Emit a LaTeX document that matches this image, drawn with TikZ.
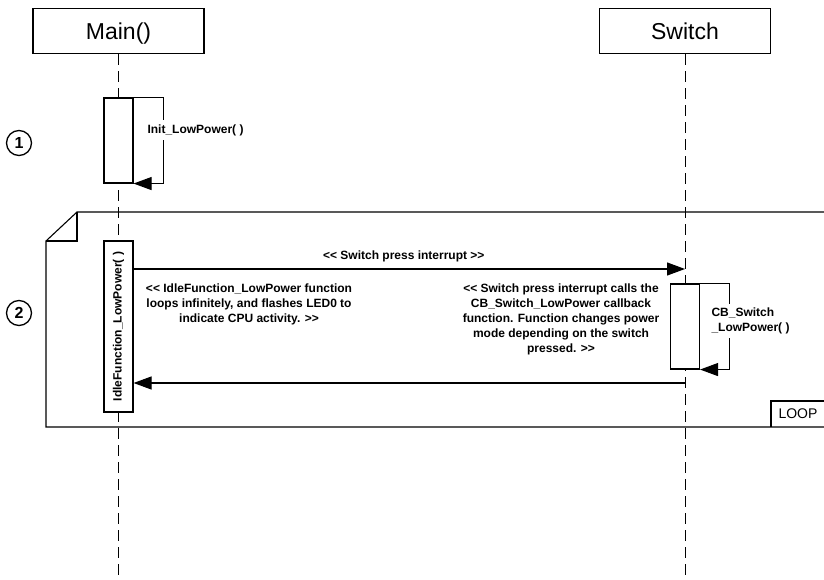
\documentclass[tikz,border=0pt]{standalone}
\usepackage{fontspec}
\setmainfont{Liberation Sans}
\usetikzlibrary{arrows.meta}
\begin{document}
\begin{tikzpicture}[x=1pt,y=-1pt,
  line width=1.1pt,
  header/.style={draw,rectangle,minimum width=171pt,minimum height=45pt,inner sep=0pt,text height=20pt,text depth=2pt,font=\fontsize{23}{26}\selectfont},
  lifeline/.style={dash pattern=on 11pt off 6pt,line width=1pt},
  actbox/.style={draw,fill=white,rectangle,inner sep=0pt,minimum width=29pt},
  msg/.style={-{Triangle[length=18pt,width=13pt]}},
  note/.style={align=center,font=\fontsize{12}{15}\selectfont\bfseries,inner sep=0pt},
  looplabel/.style={fill=white,align=left,font=\fontsize{12}{15}\selectfont\bfseries,inner xsep=1pt,inner ysep=4pt},
  numcirc/.style={draw,circle,minimum size=25pt,inner sep=0pt,line width=1.3pt,font=\fontsize{16}{16}\selectfont\bfseries},
  fragtext/.style={anchor=west,inner sep=0pt,font=\fontsize{14}{14}\selectfont}
]
\useasboundingbox (0,0) rectangle (824,580);
\clip (0,0) rectangle (824,580);

% participants
\node[header] (main) at (118.5,31) {Main()};
\node[header] (switch) at (685,31) {Switch};
\coordinate (mainend) at (main.south |- 0,580);
\coordinate (switchend) at (switch.south |- 0,580);

% lifelines
\draw[lifeline] (main.south) -- (mainend);
\draw[lifeline] (switch.south) -- (switchend);

% step markers
\node[numcirc] (n1) at (19,143) {1};
\node[numcirc] (n2) at (19,313) {2};

% loop combined fragment with folded corner
\draw (46,241) -- (77,212) -- (840,212) -- (840,427) -- (46,427) -- cycle;
\draw (77,212) -- (77,241) -- (46,241);
\draw (771,427) -- (771,401) -- (840,401);
\node[fragtext] (looplbl) at (778,414) {LOOP};

% step 1: initialisation self call
\node[actbox,minimum height=85pt] (act1) at (118.5,140.5) {};
\draw[msg] (act1.north east) -- ++(30,0) |- (act1.south east);
\node[looplabel,anchor=west] (init) at (146,130) {Init\_LowPower( )};

% step 2: idle loop activation
\node[actbox,minimum height=171pt] (act2) at (118.5,326.5)
  {\rotatebox{90}{\fontsize{12}{15}\selectfont\bfseries IdleFunction\_LowPower( )}};

% switch interrupt message
\coordinate (irq) at (switch.south |- 0,269);
\draw[msg] (act2.east |- irq) -- node[note,above=6pt,pos=0.49] (irqlbl) {<{}< Switch press interrupt >{}>} (irq);

\node[note] (idlenote) at (249,304) {<{}< IdleFunction\_LowPower function\\loops infinitely, and flashes LED0 to\\indicate CPU activity. >{}>};
\node[note] (cbnote) at (561,319) {<{}< Switch press interrupt calls the\\CB\_Switch\_LowPower callback\\function. Function changes power\\mode depending on the switch\\pressed. >{}>};

% callback activation with self call
\node[actbox,minimum height=85pt] (act3) at (685,326.5) {};
\draw[msg] (act3.north east) -- ++(29,0) |- (act3.south east);
\node[looplabel,anchor=west] (cblbl) at (710,321) {CB\_Switch\\\_LowPower( )};

% return to main
\coordinate (ret) at (switch.south |- 0,383);
\draw[msg] (ret) -- (act2.east |- ret);
\end{tikzpicture}
\end{document}
